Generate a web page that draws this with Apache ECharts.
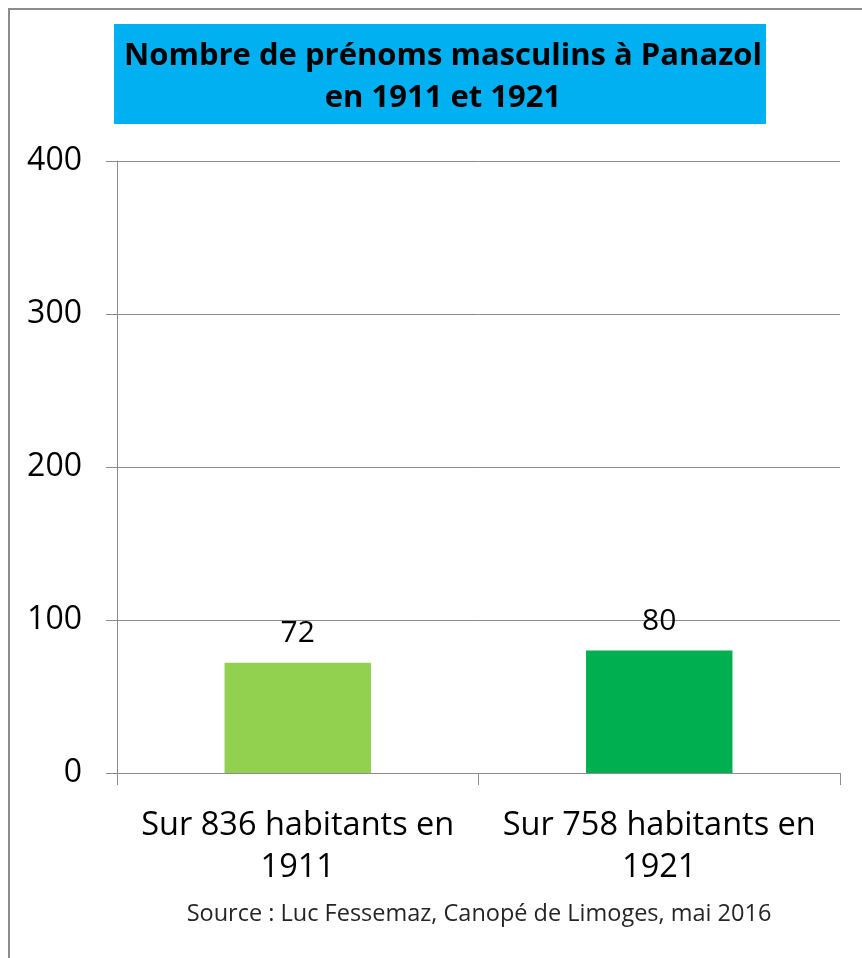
<!DOCTYPE html>
<html>
<head>
<meta charset="utf-8">
<script src="https://cdn.jsdelivr.net/npm/echarts@6/dist/echarts.min.js"></script>
<style>
  html, body { margin: 0; padding: 0; background: #fff; }
  #main { width: 862px; height: 958px; }
</style>
</head>
<body>
<div id="main"></div>
<script>
var categories = ['Sur 836 habitants en 1911', 'Sur 758 habitants en 1921'];
var values = [72, 80];
var barColors = ['#92D050', '#00B050'];
var yTicks = [0, 100, 200, 300, 400];

var font = 'Open Sans';

var chart = echarts.init(document.getElementById('main'));

var option = {
  animation: false,
  title: {
    text: 'Nombre de prénoms masculins à Panazol\nen 1911 et 1921',
    left: 438,
    top: 30,
    textAlign: 'center',
    textStyle: {
      fontFamily: font,
      fontWeight: 'bold',
      fontSize: 31,
      lineHeight: 42,
      color: '#000'
    }
  },
  graphic: [
    // cadre autour du graphique
    {
      type: 'rect',
      z: -10,
      shape: { x: 9, y: 9, width: 900, height: 1000 },
      style: { fill: '#fff', stroke: '#8c8c8c', lineWidth: 2 }
    },
    // fond du titre
    {
      type: 'rect',
      z: -5,
      shape: { x: 114, y: 24, width: 652, height: 100 },
      style: { fill: '#00B0F0' }
    },
    {
      type: 'text',
      x: 479,
      y: 914,
      style: {
        text: 'Source : Luc Fessemaz, Canopé de Limoges, mai 2016',
        fontFamily: font,
        fontSize: 23.5,
        fill: '#262626',
        align: 'center',
        verticalAlign: 'middle'
      }
    }
  ],
  grid: {
    left: 117,
    right: 22,
    top: 161,
    bottom: 185
  },
  xAxis: {
    type: 'category',
    data: categories,
    axisLine: { lineStyle: { color: '#8c8c8c', width: 1 } },
    axisTick: { show: true, length: 12, lineStyle: { color: '#8c8c8c' } },
    axisLabel: {
      interval: 0,
      hideOverlap: false,
      margin: 32,
      fontFamily: font,
      fontSize: 32.5,
      lineHeight: 42,
      color: '#000',
      formatter: function (v) {
        var i = v.lastIndexOf(' ');
        return v.slice(0, i) + '\n' + v.slice(i + 1);
      }
    }
  },
  yAxis: {
    type: 'value',
    min: yTicks[0],
    max: yTicks[yTicks.length - 1],
    interval: 100,
    axisLine: { show: true, lineStyle: { color: '#8c8c8c', width: 1 } },
    axisTick: { show: true, length: 11, lineStyle: { color: '#8c8c8c' } },
    splitLine: { lineStyle: { color: '#8c8c8c', width: 1 } },
    axisLabel: {
      margin: 35,
      fontFamily: font,
      fontSize: 32,
      color: '#000'
    }
  },
  series: [
    {
      type: 'bar',
      barWidth: '40.5%',
      data: values.map(function (v, i) {
        return { value: v, itemStyle: { color: barColors[i] } };
      }),
      label: {
        show: true,
        position: 'top',
        distance: 14,
        fontFamily: font,
        fontSize: 30,
        color: '#000'
      }
    }
  ]
};

chart.setOption(option);
</script>
</body>
</html>
